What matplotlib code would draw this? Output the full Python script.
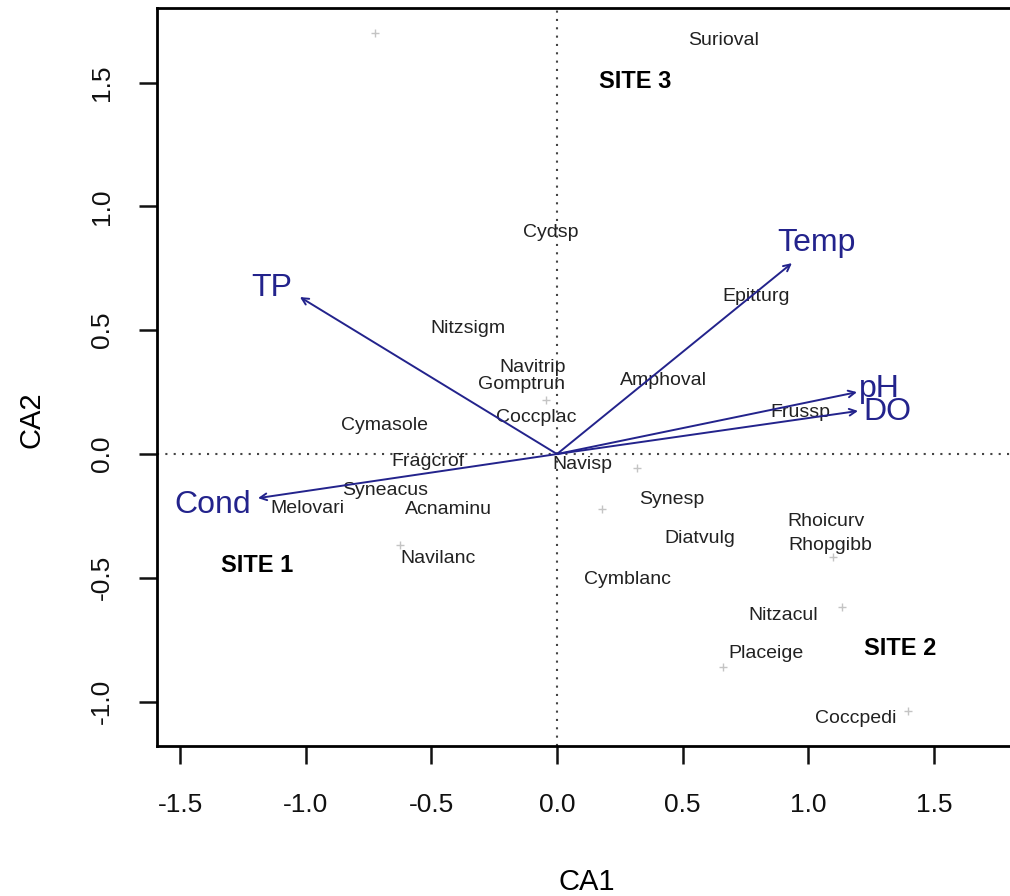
import matplotlib
matplotlib.use("Agg")
import matplotlib.pyplot as plt

plt.rcParams['font.family'] = ['Liberation Sans', 'DejaVu Sans']

# Species scores (label positions)
species = ["Surioval", "Cydsp", "Epitturg", "Nitzsigm", "Navitrip", "Gomptrun",
           "Amphoval", "Coccplac", "Cymasole", "Frussp", "Fragcrof", "Navisp",
           "Syneacus", "Melovari", "Acnaminu", "Synesp", "Rhoicurv", "Rhopgibb",
           "Diatvulg", "Navilanc", "Cymblanc", "Nitzacul", "Placeige", "Coccpedi"]
sp_x = [0.661, -0.024, 0.792, -0.354, -0.096, -0.143, 0.422, -0.084, -0.688, 0.967,
        -0.513, 0.103, -0.684, -0.995, -0.430, 0.458, 1.070, 1.086, 0.569, -0.474,
        0.279, 0.899, 0.832, 1.190]
sp_y = [1.672, 0.893, 0.638, 0.505, 0.351, 0.279, 0.299, 0.149, 0.117, 0.166,
        -0.032, -0.044, -0.149, -0.218, -0.222, -0.182, -0.271, -0.368, -0.343, -0.420,
        -0.505, -0.650, -0.804, -1.066]

# faint site/species point markers
pt_x = [-0.724, -0.044, 0.318, 0.179, 1.098, 1.134, 0.661, 1.397, -0.625]
pt_y = [1.700, 0.218, -0.057, -0.222, -0.416, -0.618, -0.860, -1.038, -0.368]

# Environmental vectors
env = ["TP", "Temp", "pH", "DO", "Cond"]
env_x = [-1.023, 0.935, 1.194, 1.198, -1.190]
env_y = [0.634, 0.771, 0.250, 0.174, -0.178]
env_lab_x = [-1.134, 1.031, 1.285, 1.313, -1.369]
env_lab_y = [0.670, 0.852, 0.262, 0.170, -0.206]

# Site annotations
sites = ["SITE 3", "SITE 1", "SITE 2"]
site_x = [0.311, -1.194, 1.365]
site_y = [1.506, -0.452, -0.784]

xticks = [-1.5, -1.0, -0.5, 0.0, 0.5, 1.0, 1.5]
yticks = [-1.0, -0.5, 0.0, 0.5, 1.0, 1.5]

navy = '#23238c'

fig = plt.figure(figsize=(10.10, 8.96), dpi=100)
ax = fig.add_axes([0.1554, 0.1674, 0.8812, 0.8236])
ax.set_xlim(-1.592, 1.95)
ax.set_ylim(-1.179, 1.801)

ax.axhline(0, color='#444444', ls=(0, (1, 3)), lw=1.5, zorder=1)
ax.axvline(0, color='#444444', ls=(0, (1, 3)), lw=1.5, zorder=1)

ax.scatter(pt_x, pt_y, marker='+', s=30, color='#c4c4c4', linewidths=1, zorder=2)

for name, x, y in zip(species, sp_x, sp_y):
    ax.text(x, y, name, fontsize=14, ha='center', va='center', color='#222222', zorder=3)

for name, x, y, lx, ly in zip(env, env_x, env_y, env_lab_x, env_lab_y):
    ax.annotate('', xy=(x, y), xytext=(0, 0),
                arrowprops=dict(arrowstyle='->', color=navy, lw=1.4, mutation_scale=12,
                                shrinkA=0, shrinkB=0), zorder=4)
    ax.text(lx, ly, name, fontsize=23, ha='center', va='center', color=navy, zorder=5)

for name, x, y in zip(sites, site_x, site_y):
    ax.text(x, y, name, fontsize=17, fontweight='bold', ha='center', va='center',
            color='black', zorder=5)

ax.set_xticks(xticks)
ax.set_yticks(yticks)
ax.set_xticklabels([f"{t:.1f}" for t in xticks], fontsize=19)
ax.set_yticklabels([f"{t:.1f}" for t in yticks], fontsize=19, rotation=90, va='center')
ax.tick_params(axis='both', length=13, width=1.8, direction='out', colors='#111111')
ax.tick_params(axis='x', pad=21)
ax.tick_params(axis='y', pad=18)

for s in ['left', 'bottom', 'top']:
    ax.spines[s].set_linewidth(2)
ax.spines['right'].set_visible(False)

ax.set_xlabel('CA1', fontsize=21, va='center')
ax.set_ylabel('CA2', fontsize=21, va='center')
ax.xaxis.set_label_coords(0.4832, -0.1840)
ax.yaxis.set_label_coords(-0.1404, 0.4418)

fig.savefig('out.png', dpi=100)
